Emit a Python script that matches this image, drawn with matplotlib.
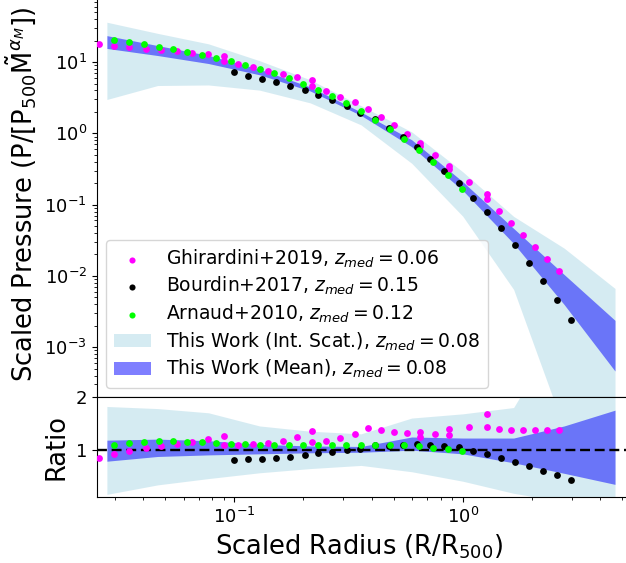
import numpy as np
import matplotlib.pyplot as plt

# model nodes (scaled radius) and mean profile
r_model = [0.0277, 0.0462, 0.0771, 0.129, 0.215, 0.359, 0.598, 1.0, 1.67, 2.78, 4.64]
p_mean = [19.9, 14.2, 10.6, 7.21, 4.18, 1.875, 0.655, 0.172, 0.038, 0.0072, 0.00136]
# band edges as ratio to the mean
mean_hi = [1.18, 1.20, 1.17, 1.10, 1.07, 1.06, 1.24, 1.22, 1.22, 1.45, 1.75]
mean_lo = [0.78, 0.87, 0.90, 0.92, 0.94, 0.95, 0.99, 0.92, 0.75, 0.55, 0.34]
scat_hi = [1.82, 1.78, 1.70, 1.45, 1.35, 1.30, 1.60, 1.68, 1.80, 3.4, 4.9]
scat_lo = [0.15, 0.33, 0.45, 0.56, 0.64, 0.70, 0.58, 0.40, 0.17, 0.01, 0.005]

# Ghirardini+2019
r_g19 = [0.0257, 0.0299, 0.0347, 0.0411, 0.048, 0.0562, 0.0655, 0.0766, 0.0899, 0.0899,
         0.104, 0.121, 0.141, 0.163, 0.189, 0.219, 0.219, 0.253, 0.291, 0.338, 0.386,
         0.4405, 0.502, 0.569, 0.65, 0.65, 0.754, 0.874, 0.874, 1.062, 1.274, 1.274,
         1.446, 1.632, 1.835, 2.072, 2.332, 2.63]
p_g19 = [17.9, 17.0, 16.1, 15.4, 14.8, 14.1, 13.4, 12.8, 12.2, 10.4,
         9.46, 8.42, 7.54, 6.78, 6.15, 5.58, 4.64, 3.91, 3.25, 2.71, 2.23,
         1.72, 1.31, 0.968, 0.723, 0.67, 0.49, 0.347, 0.311, 0.209, 0.143, 0.119,
         0.0805, 0.0552, 0.0374, 0.0254, 0.0173, 0.0119]
ratio_g19 = [0.847, 0.911, 0.974, 1.025, 1.069, 1.107, 1.151, 1.202, 1.265, 1.088,
             1.088, 1.101, 1.132, 1.17, 1.246, 1.348, 1.145, 1.17, 1.215, 1.29, 1.411,
             1.367, 1.335, 1.322, 1.34, 1.246, 1.297, 1.386, 1.278, 1.437, 1.671, 1.424,
             1.392, 1.373, 1.367, 1.367, 1.367, 1.373]

# Bourdin+2017
r_b17 = [0.0998, 0.115, 0.1327, 0.153, 0.176, 0.203, 0.233, 0.2687, 0.3107, 0.3565,
         0.412, 0.476, 0.546, 0.629, 0.719, 0.831, 0.9605, 1.106, 1.274, 1.471,
         1.694, 1.95, 2.246, 2.587, 2.978]
p_b17 = [7.16, 6.41, 5.82, 5.28, 4.64, 4.03, 3.46, 2.89, 2.38, 1.91,
         1.57, 1.18, 0.879, 0.641, 0.44, 0.301, 0.198, 0.1256, 0.078, 0.0464,
         0.027, 0.0152, 0.0084, 0.00455, 0.0024]
ratio_b17 = [0.803, 0.816, 0.828, 0.847, 0.866, 0.898, 0.93, 0.961, 0.99, 1.02,
             1.082, 1.075, 1.088, 1.101, 1.094, 1.075, 1.044, 0.98, 0.917, 0.847,
             0.765, 0.683, 0.594, 0.512, 0.429]

# Arnaud+2010
r_a10 = [0.0299, 0.0347, 0.0402, 0.0466, 0.0538, 0.0622, 0.0721, 0.0832, 0.0966, 0.1115,
         0.1297, 0.1498, 0.1734, 0.1995, 0.232, 0.268, 0.3095, 0.358, 0.413, 0.481,
         0.555, 0.644, 0.7434, 0.86, 0.996]
p_a10 = [20.4, 18.9, 17.8, 16.4, 15.1, 13.8, 12.7, 11.4, 10.2, 8.99,
         7.89, 6.93, 5.95, 4.95, 4.12, 3.35, 2.67, 2.04, 1.56, 1.14,
         0.823, 0.582, 0.394, 0.262, 0.168]
ratio_a10 = [1.088, 1.126, 1.151, 1.158, 1.158, 1.151, 1.139, 1.132, 1.113, 1.107,
             1.094, 1.088, 1.088, 1.082, 1.082, 1.082, 1.088, 1.085, 1.088, 1.088,
             1.082, 1.063, 1.037, 1.012, 0.968]

p_mean_arr = np.array(p_mean)

fig = plt.figure(figsize=(6.26, 5.63), dpi=100)
ax = fig.add_axes([0.1545, 0.29485, 0.8687, 0.7187])
axr = fig.add_axes([0.1545, 0.11723, 0.8687, 0.17762], sharex=ax)

ax.scatter(r_g19, p_g19, s=24, lw=0, color='magenta', zorder=3,
           label=r'Ghirardini+2019, $z_{med} = 0.06$')
ax.scatter(r_b17, p_b17, s=24, lw=0, color='black', zorder=3,
           label=r'Bourdin+2017, $z_{med} = 0.15$')
ax.scatter(r_a10, p_a10, s=24, lw=0, color='lime', zorder=3,
           label=r'Arnaud+2010, $z_{med} = 0.12$')
ax.fill_between(r_model, p_mean_arr * np.array(scat_lo), p_mean_arr * np.array(scat_hi),
                color='lightblue', alpha=0.5, lw=0,
                label=r'This Work (Int. Scat.), $z_{med} = 0.08$')
ax.fill_between(r_model, p_mean_arr * np.array(mean_lo), p_mean_arr * np.array(mean_hi),
                color='blue', alpha=0.5, lw=0,
                label=r'This Work (Mean), $z_{med} = 0.08$')

ax.set_xscale('log')
ax.set_yscale('log')
ax.set_xlim(0.025, 6)
ax.set_ylim(2e-4, 95)
ax.set_ylabel(r'Scaled Pressure (P/[P$_{500}\tilde{\mathrm{M}}^{\alpha_M}$])', fontsize=18.5)
ax.tick_params(labelbottom=False, labelsize=13)
ax.legend(loc='lower left', fontsize=13.5, labelspacing=0.28, markerscale=0.9)

axr.fill_between(r_model, scat_lo, scat_hi, color='lightblue', alpha=0.5, lw=0)
axr.fill_between(r_model, mean_lo, mean_hi, color='blue', alpha=0.5, lw=0)
axr.scatter(r_g19, ratio_g19, s=24, lw=0, color='magenta', zorder=3)
axr.scatter(r_b17, ratio_b17, s=24, lw=0, color='black', zorder=3)
axr.scatter(r_a10, ratio_a10, s=24, lw=0, color='lime', zorder=3)
axr.axhline(1, color='black', ls='--', lw=1.7, dashes=(4.2, 2.0), zorder=2)
axr.set_ylim(0.1, 2)
axr.set_yticks([1, 2])
axr.set_yticklabels(['1', '2'])
axr.set_ylabel('Ratio', fontsize=18.5)
axr.set_xlabel(r'Scaled Radius (R/R$_{500}$)', fontsize=18.5)
axr.xaxis.label.set_x(0.483)
axr.tick_params(labelsize=13)

fig.savefig('out.png', dpi=100)
